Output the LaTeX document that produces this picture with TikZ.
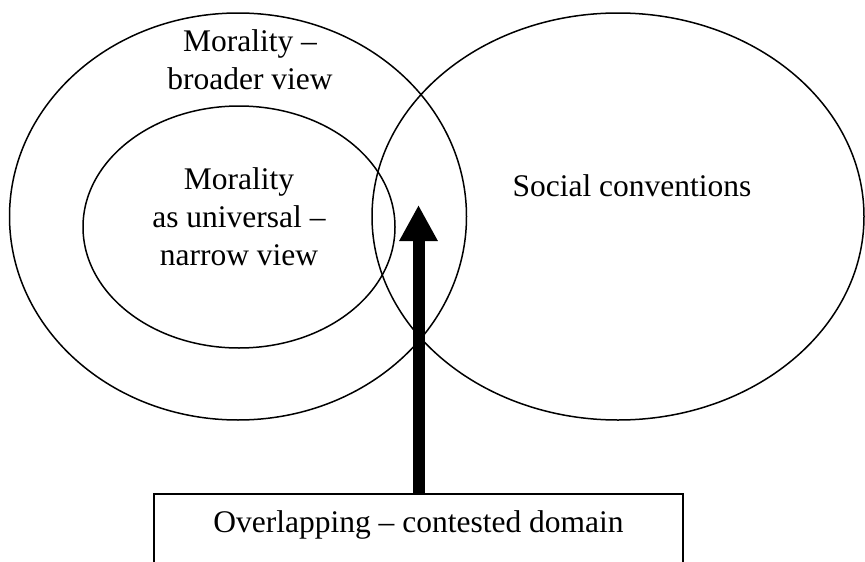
\documentclass[tikz,border=0pt]{standalone}
\usepackage{fontspec}
\setmainfont{Liberation Serif}
\usetikzlibrary{shapes.geometric,arrows.meta}

\begin{document}
\begin{tikzpicture}[%
    x=1pt, y=-1pt,
    font=\fontsize{31.5}{38}\selectfont,
    sphere/.style={draw, ellipse, line width=1.5pt, inner sep=0pt},
    caption/.style={align=center, anchor=base, inner sep=0pt},
    contested/.style={draw, rectangle, line width=1.6pt, minimum width=529pt,
      text height=22pt, text depth=60pt, inner ysep=17pt, anchor=north},
    bigarrow/.style={-{Triangle[length=36pt,width=36pt]}, line width=12pt}
  ]
    \useasboundingbox (0,0) rectangle (865,562);

    \node[sphere, minimum width=457pt, minimum height=407pt] (broad) at (238,216.5) {};
    \node[sphere, minimum width=312pt, minimum height=242pt] (narrow) at (239,227) {};
    \node[sphere, minimum width=492pt, minimum height=407pt] (social) at (618,216.5) {};

    % base anchor sits on the last line
    \node[caption] (broadtext) at (250,89) {Morality --\\broader view};
    \node[caption] (narrowtext) at (239,265) {Morality\\as universal --\\narrow view};
    \node[caption] (socialtext) at (632,196) {Social conventions};

    \node[contested] (overlap) at (418.5,493) {Overlapping -- contested domain};
    \coordinate (tip) at (418.5,205);

    \draw[bigarrow] (overlap.north) -- (tip);
  \end{tikzpicture}
\end{document}
